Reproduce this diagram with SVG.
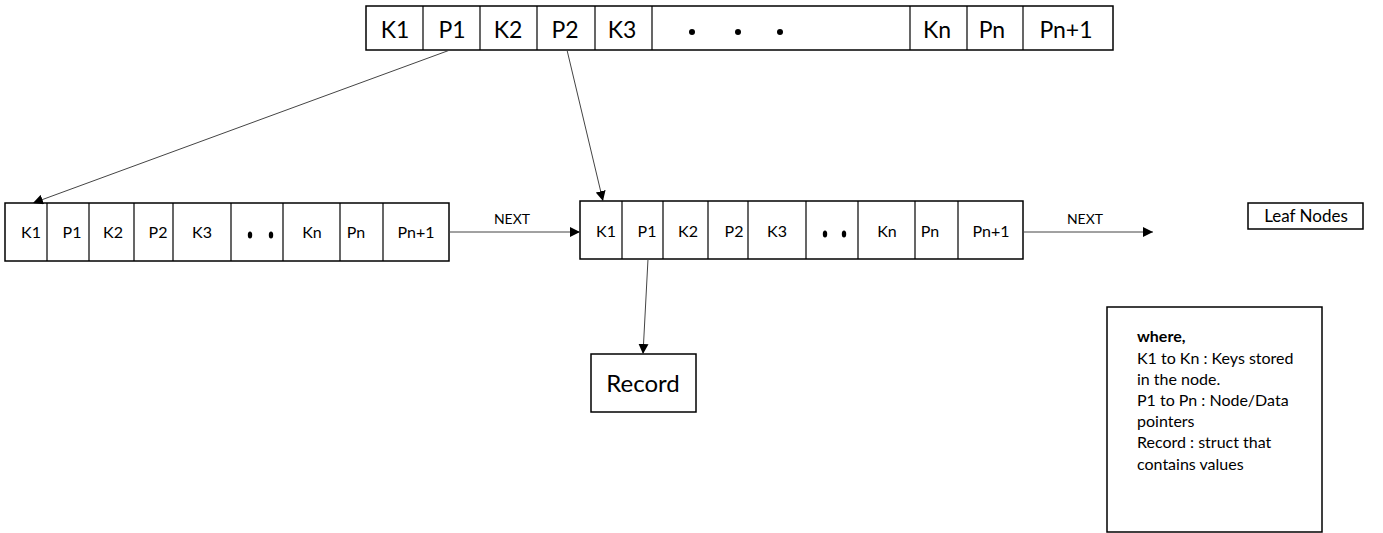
<svg xmlns="http://www.w3.org/2000/svg" width="1383" height="533" viewBox="0 0 1383 533">
<style>
  .box{fill:#fff;stroke:#000;stroke-width:1.5}
  .div{stroke:#000;stroke-width:1.2}
  .t{font-family:Lato,"Liberation Sans",sans-serif;fill:#000;text-anchor:middle}
  .big{font-size:23px}
  .sm{font-size:16px}
  .lbl{font-size:14px}
  .conn{stroke:#444;stroke-width:1;fill:none;marker-end:url(#ah)}
  .leg{font-family:Lato,"Liberation Sans",sans-serif;font-size:16px;fill:#000}
</style>
<defs>
  <marker id="ah" viewBox="0 0 10 10" refX="10" refY="5" markerWidth="10" markerHeight="10" markerUnits="userSpaceOnUse" orient="auto">
    <path d="M0,0 L10,5 L0,10 z" fill="#000"/>
  </marker>
</defs>
<rect width="1383" height="533" fill="#fff"/>

<g id="root-node">
  <rect class="box" x="366" y="6" width="747" height="44"/>
  <g class="div">
    <line x1="423" y1="6" x2="423" y2="50"/>
    <line x1="480" y1="6" x2="480" y2="50"/>
    <line x1="537" y1="6" x2="537" y2="50"/>
    <line x1="595" y1="6" x2="595" y2="50"/>
    <line x1="652" y1="6" x2="652" y2="50"/>
    <line x1="910" y1="6" x2="910" y2="50"/>
    <line x1="967" y1="6" x2="967" y2="50"/>
    <line x1="1023" y1="6" x2="1023" y2="50"/>
  </g>
  <g class="t big">
    <text x="395" y="38">K1</text>
    <text x="452" y="38">P1</text>
    <text x="508" y="38">K2</text>
    <text x="565" y="38">P2</text>
    <text x="622" y="38">K3</text>
    <text x="937" y="38">Kn</text>
    <text x="992" y="38">Pn</text>
    <text x="1066" y="38">Pn+1</text>
  </g>
  <circle cx="692" cy="32" r="3"/>
  <circle cx="738" cy="32" r="3"/>
  <circle cx="780" cy="32" r="3"/>
</g>

<g id="leaf-left">
  <rect class="box" x="5" y="203" width="444" height="58"/>
  <g class="div">
    <line x1="47" y1="203" x2="47" y2="261"/>
    <line x1="89" y1="203" x2="89" y2="261"/>
    <line x1="134" y1="203" x2="134" y2="261"/>
    <line x1="173" y1="203" x2="173" y2="261"/>
    <line x1="231" y1="203" x2="231" y2="261"/>
    <line x1="283" y1="203" x2="283" y2="261"/>
    <line x1="340" y1="203" x2="340" y2="261"/>
    <line x1="383" y1="203" x2="383" y2="261"/>
  </g>
  <g class="t sm">
    <text x="31" y="238">K1</text>
    <text x="72" y="238">P1</text>
    <text x="113" y="238">K2</text>
    <text x="158" y="238">P2</text>
    <text x="202" y="238">K3</text>
    <text x="312" y="238">Kn</text>
    <text x="356" y="238">Pn</text>
    <text x="416" y="238">Pn+1</text>
  </g>
  <ellipse cx="250" cy="235" rx="2.2" ry="3.5"/>
  <ellipse cx="271" cy="235" rx="2.2" ry="3.5"/>
</g>

<g id="leaf-middle">
  <rect class="box" x="580" y="201" width="443" height="58"/>
  <g class="div">
    <line x1="622" y1="201" x2="622" y2="259"/>
    <line x1="663" y1="201" x2="663" y2="259"/>
    <line x1="708" y1="201" x2="708" y2="259"/>
    <line x1="748" y1="201" x2="748" y2="259"/>
    <line x1="806" y1="201" x2="806" y2="259"/>
    <line x1="858" y1="201" x2="858" y2="259"/>
    <line x1="915" y1="201" x2="915" y2="259"/>
    <line x1="958" y1="201" x2="958" y2="259"/>
  </g>
  <g class="t sm">
    <text x="606" y="237">K1</text>
    <text x="647" y="237">P1</text>
    <text x="688" y="237">K2</text>
    <text x="734" y="237">P2</text>
    <text x="777" y="237">K3</text>
    <text x="887" y="237">Kn</text>
    <text x="930" y="237">Pn</text>
    <text x="991" y="237">Pn+1</text>
  </g>
  <ellipse cx="825" cy="234" rx="2.2" ry="3.5"/>
  <ellipse cx="844" cy="234" rx="2.2" ry="3.5"/>
</g>

<g id="record">
  <rect class="box" x="591" y="354" width="105" height="58"/>
  <text class="t" x="643" y="392" font-size="24">Record</text>
</g>

<g id="leaf-nodes-label">
  <rect class="box" x="1248" y="203" width="115" height="26"/>
  <text class="t" x="1306" y="222" font-size="17">Leaf Nodes</text>
</g>

<g id="legend">
  <rect class="box" x="1107" y="307" width="215" height="225"/>
  <text class="leg" x="1137" y="342" font-weight="bold">where,</text>
  <text class="leg" x="1137" y="364">K1 to Kn : Keys stored</text>
  <text class="leg" x="1137" y="385">in the node.</text>
  <text class="leg" x="1137" y="406">P1 to Pn : Node/Data</text>
  <text class="leg" x="1137" y="427">pointers</text>
  <text class="leg" x="1137" y="448">Record : struct that</text>
  <text class="leg" x="1137" y="470">contains values</text>
</g>

<g id="connectors">
  <line class="conn" x1="450" y1="50" x2="33" y2="203"/>
  <line class="conn" x1="567" y1="50" x2="603" y2="201"/>
  <line class="conn" x1="449" y1="232" x2="580" y2="232"/>
  <line class="conn" x1="1023" y1="232" x2="1153" y2="232"/>
  <line class="conn" x1="648" y1="259" x2="643" y2="354"/>
  <text class="t lbl" x="512" y="224">NEXT</text>
  <text class="t lbl" x="1085" y="224">NEXT</text>
</g>
</svg>
